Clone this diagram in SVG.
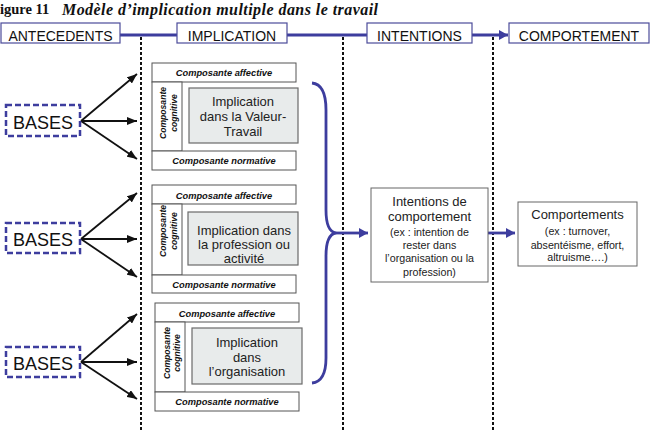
<svg xmlns="http://www.w3.org/2000/svg" width="651" height="431" viewBox="0 0 651 431">
<style>
.hd{fill:#fff;stroke:#4b4b9a;stroke-width:1.2}
.ht{font-family:"Liberation Sans",Arial,sans-serif;font-size:14px;fill:#111;text-anchor:middle}
.cp{fill:#fff;stroke:#555;stroke-width:1}
.ct{font-family:"Liberation Sans",Arial,sans-serif;font-size:9.3px;font-weight:bold;font-style:italic;fill:#111;text-anchor:middle}
.cr{font-family:"Liberation Sans",Arial,sans-serif;font-size:8.6px;font-weight:bold;font-style:italic;fill:#111;text-anchor:middle}
.in{fill:#e8ebeb;stroke:#6a6a6a;stroke-width:1.2}
.it{font-family:"Liberation Sans",Arial,sans-serif;font-size:13px;fill:#222;text-anchor:middle}
.bs{fill:#fff;stroke:#3d3d9e;stroke-width:2.5;stroke-dasharray:6,3}
.bt{font-family:"Liberation Sans",Arial,sans-serif;font-size:18px;fill:#111;text-anchor:middle}
.bx{fill:#fff;stroke:#666;stroke-width:1}
.t13{font-family:"Liberation Sans",Arial,sans-serif;font-size:13px;fill:#222;text-anchor:middle}
.t11{font-family:"Liberation Sans",Arial,sans-serif;font-size:10.7px;fill:#222;text-anchor:middle}
.dot{stroke:#111;stroke-width:2;stroke-dasharray:3,2;fill:none}
.ba{stroke:#111;stroke-width:1.8;fill:none;marker-end:url(#ak)}
.bl{stroke:#3d3d9e;stroke-width:2.8;fill:none}
</style>
<defs>
<marker id="ak" markerUnits="userSpaceOnUse" markerWidth="10" markerHeight="8" refX="10" refY="4" orient="auto"><path d="M0,0 L10,4 L0,8 z" fill="#111"/></marker>
<marker id="ab" markerUnits="userSpaceOnUse" markerWidth="10" markerHeight="10" refX="9" refY="5" orient="auto"><path d="M0,0 L9,5 L0,10 z" fill="#3d3d9e"/></marker>
</defs>
<rect width="651" height="431" fill="#fff"/>
<text x="0" y="14" style="font-family:'Liberation Serif','Times New Roman',serif;font-size:14.5px;font-weight:bold;fill:#111">igure 11</text>
<text x="62" y="14.5" textLength="316" style="font-family:'Liberation Serif','Times New Roman',serif;font-size:16px;font-weight:bold;font-style:italic;fill:#111">Modèle d’implication multiple dans le travail</text>

<g id="connectors">
<line x1="120" y1="35" x2="177" y2="35" class="bl"/>
<line x1="287" y1="35" x2="367" y2="35" class="bl"/>
<line x1="472" y1="35" x2="508" y2="35" class="bl" marker-end="url(#ab)"/>
<line x1="141" y1="37" x2="141" y2="431" class="dot"/>
<line x1="343" y1="37" x2="343" y2="431" class="dot"/>
<line x1="493" y1="37" x2="493" y2="431" class="dot"/>
<line x1="81" y1="121" x2="137" y2="74" class="ba"/>
<line x1="81" y1="121" x2="137" y2="121" class="ba"/>
<line x1="81" y1="121" x2="137" y2="159" class="ba"/>
<line x1="81" y1="239" x2="137" y2="193" class="ba"/>
<line x1="81" y1="239" x2="137" y2="239" class="ba"/>
<line x1="81" y1="239" x2="137" y2="277" class="ba"/>
<line x1="81" y1="362" x2="137" y2="314" class="ba"/>
<line x1="81" y1="362" x2="137" y2="362" class="ba"/>
<line x1="81" y1="362" x2="137" y2="399" class="ba"/>
<path d="M312,83 C322,84 326,95 326,110 L326,210 C326,225 329,232 336,233 C329,234 326,241 326,256 L326,358 C326,373 322,382 312,383" class="bl"/>
<line x1="336" y1="233" x2="368" y2="233" class="bl" marker-end="url(#ab)"/>
<line x1="488" y1="233" x2="515" y2="233" class="bl" marker-end="url(#ab)"/>
</g>

<g id="h-antecedents"><rect x="1" y="23" width="119" height="20" class="hd"/><text x="60.5" y="40.5" class="ht">ANTECEDENTS</text></g>
<g id="h-implication"><rect x="177" y="23" width="110" height="20" class="hd"/><text x="232" y="40.5" class="ht">IMPLICATION</text></g>
<g id="h-intentions"><rect x="367" y="23" width="105" height="20" class="hd"/><text x="419.5" y="40.5" class="ht">INTENTIONS</text></g>
<g id="h-comportement"><rect x="509" y="23" width="140" height="20" class="hd"/><text x="579" y="40.5" class="ht">COMPORTEMENT</text></g>

<g id="bases1"><rect x="6" y="105" width="74" height="31" class="bs"/><text x="43" y="128.5" class="bt">BASES</text></g>
<g id="bases2"><rect x="6" y="223" width="74" height="30" class="bs"/><text x="43" y="246" class="bt">BASES</text></g>
<g id="bases3"><rect x="6" y="347" width="74" height="30" class="bs"/><text x="43" y="370" class="bt">BASES</text></g>

<g id="valeur-travail">
<rect x="152" y="63" width="144" height="19" class="cp"/><text x="224" y="76" class="ct">Composante affective</text>
<rect x="152" y="82" width="30" height="69" class="cp"/>
<text transform="translate(166,113) rotate(-90)" class="cr">Composante</text>
<text transform="translate(176.5,113) rotate(-90)" class="cr">cognitive</text>
<rect x="152" y="151" width="144" height="19" class="cp"/><text x="224" y="164" class="ct">Composante normative</text>
<rect x="189" y="88" width="109" height="55" class="in"/>
<text x="243" y="106" class="it">Implication</text>
<text x="243" y="121" class="it">dans la Valeur-</text>
<text x="243" y="135.5" class="it">Travail</text>
</g>

<g id="profession">
<rect x="152" y="185" width="144" height="19" class="cp"/><text x="224" y="198.5" class="ct">Composante affective</text>
<rect x="152" y="204" width="30" height="71" class="cp"/>
<text transform="translate(166,231) rotate(-90)" class="cr">Composante</text>
<text transform="translate(176.5,231) rotate(-90)" class="cr">cognitive</text>
<rect x="152" y="275" width="144" height="18" class="cp"/><text x="224" y="287.5" class="ct">Composante normative</text>
<rect x="188" y="212" width="110" height="53" class="in"/>
<text x="244" y="235" class="it">Implication dans</text>
<text x="244" y="249" class="it">la profession  ou</text>
<text x="244" y="263" class="it">activité</text>
</g>

<g id="organisation">
<rect x="155" y="303" width="144" height="19" class="cp"/><text x="227" y="316.5" class="ct">Composante affective</text>
<rect x="155" y="322" width="30" height="70" class="cp"/>
<text transform="translate(169.5,353) rotate(-90)" class="cr">Composante</text>
<text transform="translate(180,353) rotate(-90)" class="cr">cognitive</text>
<rect x="155" y="392" width="144" height="19" class="cp"/><text x="227" y="405" class="ct">Composante normative</text>
<rect x="192" y="328" width="110" height="56" class="in"/>
<text x="247" y="347" class="it">Implication</text>
<text x="247" y="361.5" class="it">dans</text>
<text x="247" y="376" class="it">l’organisation</text>
</g>

<g id="intentions">
<rect x="371" y="188" width="117" height="94" class="bx"/>
<text x="429.5" y="206" class="t13">Intentions de</text>
<text x="429.5" y="221" class="t13">comportement</text>
<text x="429.5" y="235.5" class="t11">(ex : intention de</text>
<text x="429.5" y="249" class="t11">rester dans</text>
<text x="429.5" y="262" class="t11">l’organisation ou la</text>
<text x="429.5" y="276" class="t11">profession)</text>
</g>

<g id="comportements">
<rect x="518" y="202" width="119" height="64" class="bx"/>
<text x="577.5" y="219" class="t13">Comportements</text>
<text x="577.5" y="235" class="t11">(ex : turnover,</text>
<text x="577.5" y="249" class="t11">absentéisme, effort,</text>
<text x="577.5" y="261" class="t11">altruisme….)</text>
</g>
</svg>
